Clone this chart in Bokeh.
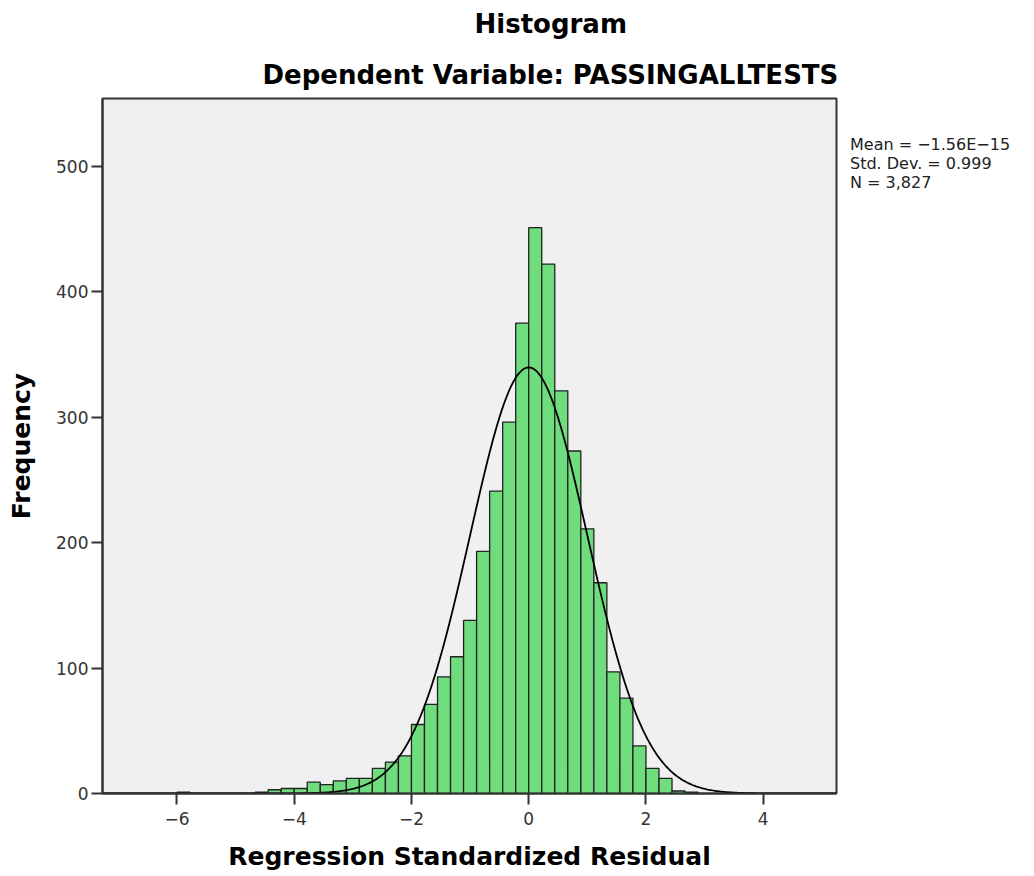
import numpy as np
from bokeh.plotting import figure
from bokeh.models import Range1d, FixedTicker, ColumnDataSource, Title, Legend, LegendItem
from bokeh.embed import file_html
from bokeh.resources import INLINE

# ---- data ----
bin_start = -6.0
bin_width = 2.0 / 9.0
counts = [1, 0, 0, 0, 0, 0, 1, 3, 4, 4,
          9, 7, 10, 12, 12, 20, 25, 30, 55, 71,
          93, 109, 138, 193, 241, 296, 375, 451, 422, 321,
          273, 211, 168, 97, 76, 38, 20, 12, 2, 1]
stat_mean = -1.56e-15
stat_sd = 0.999
stat_n = 3827
x_ticks = [-6, -4, -2, 0, 2, 4]
x_tick_labels = ["\u22126", "\u22124", "\u22122", "0", "2", "4"]
y_ticks = [0, 100, 200, 300, 400, 500]
stats_lines = ["Mean = \u22121.56E\u221215", "Std. Dev. = 0.999", "N = 3,827"]
title_main = "Histogram"
title_sub = "Dependent Variable: PASSINGALLTESTS"
x_label = "Regression Standardized Residual"
y_label = "Frequency"

FONT = "DejaVu Sans"

# ---- build ----
lefts = [bin_start + i * bin_width for i in range(len(counts))]
src = ColumnDataSource(dict(
    left=[l for l, c in zip(lefts, counts) if c > 0],
    right=[l + bin_width for l, c in zip(lefts, counts) if c > 0],
    top=[c for c in counts if c > 0],
))

x0, x1 = -7.27, 5.25
p = figure(frame_width=734, frame_height=695,
           x_range=Range1d(x0, x1), y_range=Range1d(0, 554),
           output_backend="svg", toolbar_location=None,
           min_border_left=102, min_border_right=190,
           min_border_top=98, min_border_bottom=0,
           background_fill_color="#f0f0f0", border_fill_color="white")
p.title.visible = False
p.xgrid.visible = False
p.ygrid.visible = False
p.outline_line_color = "#333333"
p.outline_line_width = 2

p.quad(left="left", right="right", bottom=0, top="top", source=src,
       fill_color="#6fdc7e", line_color="#222222", line_width=1.3)

xs = np.linspace(x0, x1, 600)
ys = stat_n * bin_width * np.exp(-0.5 * ((xs - stat_mean) / stat_sd) ** 2) / (stat_sd * np.sqrt(2 * np.pi))
p.line(xs, ys, line_color="black", line_width=1.8)

# axes
for ax in (p.xaxis[0], p.yaxis[0]):
    ax.axis_line_color = "#333333"
    ax.axis_line_width = 2
    ax.major_tick_line_color = "#333333"
    ax.major_tick_line_width = 2
    ax.major_tick_in = 0
    ax.major_tick_out = 11
    ax.minor_tick_line_color = None
    ax.major_label_text_font = FONT
    ax.major_label_text_font_size = "17px"
    ax.major_label_text_color = "#333333"
    ax.axis_label_text_font = FONT
    ax.axis_label_text_font_size = "25px"
    ax.axis_label_text_font_style = "bold"
    ax.axis_label_text_color = "black"

p.xaxis.ticker = FixedTicker(ticks=x_ticks)
p.xaxis.major_label_overrides = {t: s for t, s in zip(x_ticks, x_tick_labels)}
p.yaxis.ticker = FixedTicker(ticks=y_ticks)
p.xaxis.axis_label = x_label
p.yaxis.axis_label = y_label
p.xaxis.major_label_standoff = 7
p.yaxis.major_label_standoff = 3
p.xaxis.axis_label_standoff = 14
p.yaxis.axis_label_standoff = 17

# titles
p.add_layout(Title(text=title_sub, align="left", offset=160, standoff=17,
                   text_font=FONT, text_font_size="26px", text_font_style="bold",
                   text_color="black"), "above")
p.add_layout(Title(text=title_main, align="left", offset=372, standoff=17,
                   vertical_align="top",
                   text_font=FONT, text_font_size="26px", text_font_style="bold",
                   text_color="black"), "above")

# statistics text on the right (legend without glyphs)
dummies = [p.line(x=[], y=[], line_alpha=0) for _ in stats_lines]
legend = Legend(items=[LegendItem(label=s, renderers=[r]) for s, r in zip(stats_lines, dummies)],
                location="top_left", glyph_width=0, glyph_height=18, label_height=18,
                label_standoff=0, spacing=0, padding=0, margin=14,
                title=" ", title_text_font_size="14px", title_standoff=7,
                border_line_color=None, background_fill_alpha=0,
                label_text_font=FONT, label_text_font_size="16px",
                label_text_color="#222222")
p.add_layout(legend, "right")

open("out.html", "w").write(file_html(p, INLINE))
